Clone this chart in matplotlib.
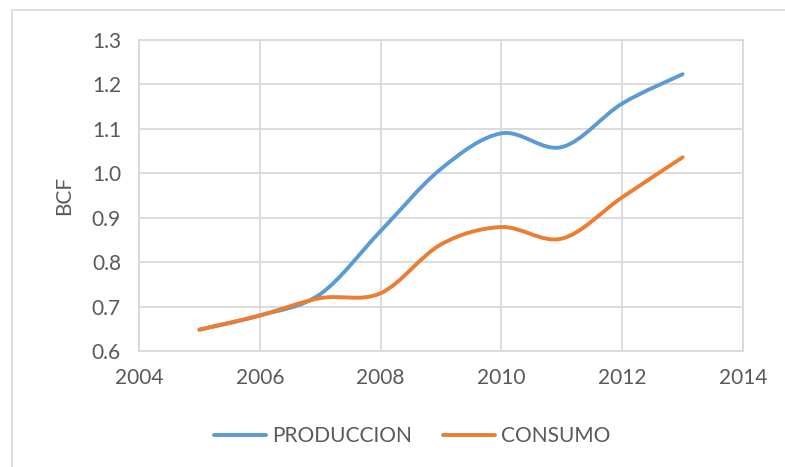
import numpy as np
import matplotlib.pyplot as plt
from matplotlib.path import Path
from matplotlib.patches import PathPatch
from matplotlib.lines import Line2D

plt.rcParams['font.family'] = ['Lato', 'DejaVu Sans']

years = [2005, 2006, 2007, 2008, 2009, 2010, 2011, 2012, 2013]
produccion = [0.648, 0.680, 0.728, 0.870, 1.010, 1.090, 1.059, 1.157, 1.223]
consumo = [0.648, 0.680, 0.719, 0.730, 0.840, 0.879, 0.853, 0.946, 1.036]

BLUE = '#5B9BD5'
ORANGE = '#ED7D31'
GRID = '#D9D9D9'
TXT = '#595959'


def smooth_path(xs, ys):
    # excel style smoothed line: catmull-rom as cubic bezier segments
    pts = np.column_stack([xs, ys]).astype(float)
    n = len(pts)
    verts = [pts[0]]
    codes = [Path.MOVETO]
    for i in range(n - 1):
        p0 = pts[i - 1] if i > 0 else pts[i]
        p1 = pts[i]
        p2 = pts[i + 1]
        p3 = pts[i + 2] if i + 2 < n else pts[i + 1]
        c1 = p1 + (p2 - p0) / 6.0
        c2 = p2 - (p3 - p1) / 6.0
        verts += [c1, c2, p2]
        codes += [Path.CURVE4] * 3
    return Path(verts, codes)


fig = plt.figure(figsize=(7.85, 4.67), dpi=100)
ax = fig.add_axes([139 / 785, 1 - 351 / 467, (743 - 139) / 785, (351 - 40) / 467])

for ys, col, lab in [(produccion, BLUE, 'PRODUCCION'), (consumo, ORANGE, 'CONSUMO')]:
    patch = PathPatch(smooth_path(years, ys), facecolor='none', edgecolor=col,
                      lw=2.8, capstyle='round', joinstyle='round', zorder=3)
    ax.add_patch(patch)
    ax.plot([], [], color=col, lw=2.8, label=lab, solid_capstyle='round')

ax.set_xlim(2004, 2014)
ax.set_ylim(0.6, 1.3)
ax.set_xticks(np.arange(2004, 2015, 2))
ax.set_yticks(np.arange(0.6, 1.31, 0.1))
ax.set_yticklabels(['%.1f' % v for v in np.arange(0.6, 1.31, 0.1)])
ax.grid(True, color=GRID, lw=1.3)
ax.set_axisbelow(True)
for s in ax.spines.values():
    s.set_color(GRID)
    s.set_linewidth(1.3)
ax.tick_params(length=0, labelsize=15, colors=TXT, pad=12)
ax.tick_params(axis='y', pad=13)
ax.set_ylabel('BCF', fontsize=15, color=TXT, labelpad=13)

leg = fig.legend(loc='center', bbox_to_anchor=(0.525, 1 - 436 / 467), ncol=2,
                 frameon=False, fontsize=15, handlelength=2.5, columnspacing=1.5,
                 handletextpad=0.3)
for t in leg.get_texts():
    t.set_color(TXT)

# outer chart frame (only top and left visible)
fig.add_artist(Line2D([12 / 785, 12 / 785], [0, 1 - 10 / 467], color=GRID, lw=1.2))
fig.add_artist(Line2D([12 / 785, 1], [1 - 10 / 467, 1 - 10 / 467], color=GRID, lw=1.2))

fig.savefig('out.png', dpi=100)
